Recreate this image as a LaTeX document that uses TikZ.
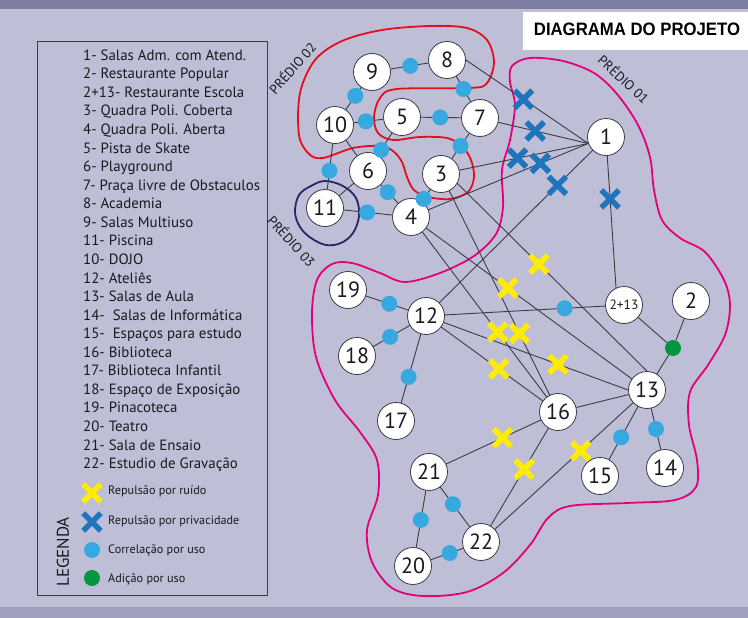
\documentclass[tikz,border=0pt]{standalone}
\usepackage{fontspec}
\usepackage{graphicx}
\setmainfont{PT Sans}
\newfontfamily\titlefont{Liberation Sans}
\usetikzlibrary{calc,shapes.misc}
\definecolor{bgc}{RGB}{190,191,214}
\definecolor{topband}{RGB}{125,127,162}
\definecolor{botband}{RGB}{160,161,190}
\definecolor{dotblue}{RGB}{55,168,224}
\definecolor{xblue}{RGB}{30,117,190}
\definecolor{xyellow}{RGB}{255,236,0}
\definecolor{dotgreen}{RGB}{0,150,64}
\definecolor{redc}{RGB}{228,15,30}
\definecolor{magc}{RGB}{228,0,125}
\definecolor{navyc}{RGB}{40,38,100}
\definecolor{linegray}{RGB}{60,60,70}
\definecolor{txt}{RGB}{25,25,30}
\pgfdeclarelayer{back}
\pgfdeclarelayer{edges}
\pgfsetlayers{back,edges,main}
\begin{document}
\begin{tikzpicture}[x=1pt,y=-1pt,
  vtx/.style={circle, draw=linegray, fill=white, line width=0.8pt, minimum size=37pt, inner sep=0pt, text=txt, font=\fontsize{22}{22}\selectfont},
  bdot/.style={circle, fill=dotblue, minimum size=16pt, inner sep=0pt},
  gdot/.style={circle, fill=dotgreen, minimum size=16pt, inner sep=0pt},
  yx/.style={cross out, draw=xyellow, line width=5.6pt, minimum size=12pt, inner sep=0pt},
  bx/.style={cross out, draw=xblue, line width=5.6pt, minimum size=12pt, inner sep=0pt},
  link/.style={draw=linegray, line width=0.9pt},
  zone/.style={line width=1.8pt},
  legtxt/.style={anchor=base west, inner sep=0pt, text=txt, font=\fontsize{14.9}{14.9}\selectfont},
  legsmall/.style={anchor=base west, inner sep=0pt, text=txt, font=\fontsize{12.2}{12.2}\selectfont},
  zonelabel/.style={text=txt, inner sep=0pt, font=\fontsize{13.5}{13.5}\selectfont}
]
\useasboundingbox (0,0) rectangle (748,618);

\begin{pgfonlayer}{back}
\fill[bgc] (0,0) rectangle (748,618);
\fill[topband] (0,0) rectangle (748,9);
\fill[botband] (0,607) rectangle (748,618);
\draw[draw=linegray, line width=1pt] (37,42) rectangle (267,595);
% PREDIO 02
\draw[zone, redc] plot[smooth cycle, tension=0.55] coordinates {
(323,158) (353,148) (380,146) (393,151) (402,162) (407,177) (414,190) (428,197)
(450,199) (468,192) (474,177) (471,160) (462,146) (447,138) (420,137) (393,140)
(378,133) (374,117) (380,98) (397,89) (470,88) (487,83) (494,62) (487,40)
(467,28) (430,26) (382,30) (342,41) (315,60) (300,93) (299,135) (309,154)};
% PREDIO 03
\draw[zone, navyc] plot[smooth cycle, tension=0.6] coordinates {
(299,195) (311,186) (325,181) (343,186) (356,198) (359,216) (353,233) (341,243)
(326,245) (311,238) (300,227) (295,212)};
% PREDIO 01
\draw[zone, magc] plot[smooth cycle, tension=0.55] coordinates {
(512,66) (530,58) (563,61) (594,73) (617,94) (638,125) (650,157) (654,190)
(662,220) (680,238) (705,252) (724,280) (730,305) (725,335) (708,365) (690,392)
(689,425) (697,460) (696,487) (675,500) (627,503) (570,506) (548,518) (530,545)
(503,573) (467,592) (423,596) (392,588) (372,562) (367,530) (378,495) (377,460)
(360,432) (335,400) (316,357) (312,313) (317,280) (332,264) (352,263) (380,273)
(405,282) (440,273) (474,256) (496,234) (503,207) (502,170) (510,140) (515,105)
(510,82)};
\end{pgfonlayer}

% title
\node[fill=white, minimum width=226pt, minimum height=38pt, anchor=north west, inner sep=0pt] (titlebox) at (523,12) {};
\node[inner sep=0pt, text=black] (title) at (637,29) {\titlefont\bfseries\fontsize{18}{18}\selectfont\scalebox{0.93}[1]{DIAGRAMA DO PROJETO}};

% legend
\foreach \t [count=\i from 0] in {1- Salas Adm. com Atend.,2- Restaurante Popular,2+13- Restaurante Escola,3- Quadra Poli. Coberta,4- Quadra Poli. Aberta,5- Pista de Skate,6- Playground,7- Praça livre de Obstaculos,8- Academia,9- Salas Multiuso,11- Piscina,10- DOJO,12- Ateliês,13- Salas de Aula,14-~ Salas de Informática,15-~ Espaços para estudo,16- Biblioteca,17- Biblioteca Infantil,18- Espaço de Exposição,19- Pinacoteca,20- Teatro,21- Sala de Ensaio,22- Estudio de Gravação}
  \node[legtxt] (leg\i) at (83,{60.3+18.56*\i}) {\t};
\node[yx] (lyx) at (92,493) {};
\node[bx] (lbx) at (92,522) {};
\node[bdot] (lbd) at (92,550) {};
\node[gdot] (lgd) at (92,578) {};
\node[legsmall] (lt1) at (108,494) {Repulsão por ruído};
\node[legsmall] (lt2) at (108,524) {Repulsão por privacidade};
\node[legsmall] (lt3) at (108,553) {Correlação por uso};
\node[legsmall] (lt4) at (108,582) {Adição por uso};
\node[rotate=90, inner sep=0pt, text=txt, font=\fontsize{17}{17}\selectfont] (legtitle) at (63,552) {LEGENDA};

% zone labels
\node[zonelabel, rotate=49] (p2) at (292,68) {PRÉDIO 02};
\node[zonelabel, rotate=-43] (p1) at (624,79) {PRÉDIO 01};
\node[zonelabel, rotate=-48] (p3) at (292,241) {PRÉDIO 03};

% vertices
\node[vtx] (n1) at (606,137) {1};
\node[vtx] (n2) at (691,301) {2};
\node[vtx, font=\fontsize{13.5}{13.5}\selectfont] (n213) at (624,305) {2+13};
\node[vtx] (n3) at (441,174) {3};
\node[vtx] (n4) at (411,217) {4};
\node[vtx] (n5) at (402,117) {5};
\node[vtx] (n6) at (368,171) {6};
\node[vtx] (n7) at (480,118) {7};
\node[vtx] (n8) at (447,60) {8};
\node[vtx] (n9) at (372,72) {9};
\node[vtx] (n10) at (335,125) {10};
\node[vtx] (n11) at (325,208) {11};
\node[vtx] (n12) at (426,316) {12};
\node[vtx] (n13) at (647,390) {13};
\node[vtx] (n14) at (665,468) {14};
\node[vtx] (n15) at (600,476) {15};
\node[vtx] (n16) at (558,412) {16};
\node[vtx] (n17) at (396,421) {17};
\node[vtx] (n18) at (357,356) {18};
\node[vtx] (n19) at (348,290) {19};
\node[vtx] (n20) at (413,566) {20};
\node[vtx] (n21) at (429,472) {21};
\node[vtx] (n22) at (481,542) {22};
\node[gdot] (g) at (673,348) {};

% edges
\begin{pgfonlayer}{edges}
\foreach \a/\b in {n9/n8,n9/n10,n10/n5,n5/n7,n8/n7,n7/n3,n5/n6,n10/n11,n6/n4,n11/n4,n3/n4,
  n12/n19,n12/n18,n12/n17,n12/n213,n13/n15,n13/n14,n21/n22,n21/n20,n20/n22,
  n10/n6,n6/n11,n13/n16,n12/n1,n4/n13,n4/n16,n3/n16,n12/n16,n16/n21,n16/n22,n13/n22,
  n2/g,g/n13,n213/g}
  \draw[link] (\a) -- (\b);
\draw[link] (n8.east) -- (n1.200);
\draw[link] (n7) -- (n1.200);
\draw[link] (n3) -- (n1.200);
\draw[link] (n4) -- (n1.200);
\draw[link] (n1) -- (n213.115);
\draw[link] (n3.-30) -- (n13.north);
\draw[link] (n12.-20) -- (n13.west);
\end{pgfonlayer}

% blue dots
\node[bdot] (d1) at ($(n9)!0.51!(n8)$) {};
\node[bdot] (d2) at ($(n9)!0.45!(n10)$) {};
\node[bdot] (d3) at ($(n10)!0.46!(n5)$) {};
\node[bdot] (d4) at ($(n5)!0.49!(n7)$) {};
\node[bdot] (d5) at ($(n8)!0.5!(n7)$) {};
\node[bdot] (d6) at ($(n7)!0.5!(n3)$) {};
\node[bdot] (d7) at ($(n5)!0.61!(n6)$) {};
\node[bdot] (d8) at ($(n10)!0.55!(n11)$) {};
\node[bdot] (d9) at ($(n6)!0.46!(n4)$) {};
\node[bdot] (d10) at ($(n11)!0.49!(n4)$) {};
\node[bdot] (d11) at ($(n3)!0.58!(n4)$) {};
\node[bdot] (d12) at ($(n12)!0.47!(n19)$) {};
\node[bdot] (d13) at ($(n12)!0.52!(n18)$) {};
\node[bdot] (d14) at ($(n12)!0.58!(n17)$) {};
\node[bdot] (d15) at ($(n12)!0.70!(n213)$) {};
\node[bdot] (d16) at ($(n13)!0.55!(n15)$) {};
\node[bdot] (d17) at ($(n13)!0.5!(n14)$) {};
\node[bdot] (d18) at ($(n21)!0.46!(n22)$) {};
\node[bdot] (d19) at ($(n21)!0.51!(n20)$) {};
\node[bdot] (d20) at ($(n20)!0.54!(n22)$) {};

% blue crosses
\node[bx] (b1) at ($(n8.east)!0.47!(n1.200)$) {};
\node[bx] (b2) at ($(n7)!0.51!(n1.200)$) {};
\node[bx] (b3) at ($(n3)!0.52!(n1.200)$) {};
\node[bx] (b4) at ($(n4)!0.73!(n1.200)$) {};
\node[bx] (b5) at ($(n12)!0.73!(n1)$) {};
\node[bx] (b6) at ($(n1)!0.41!(n213.115)$) {};

% yellow crosses
\node[yx] (y1) at ($(n3.-30)!0.43!(n13.north)$) {};
\node[yx] (y2) at ($(n4)!0.41!(n13)$) {};
\node[yx] (y3) at ($(n4)!0.59!(n16)$) {};
\node[yx] (y4) at ($(n3)!0.67!(n16)$) {};
\node[yx] (y5) at ($(n12.-20)!0.62!(n13.west)$) {};
\node[yx] (y6) at ($(n12)!0.55!(n16)$) {};
\node[yx] (y7) at ($(n16)!0.43!(n21)$) {};
\node[yx] (y8) at ($(n16)!0.44!(n22)$) {};
\node[yx] (y9) at ($(n13)!0.40!(n22)$) {};
\end{tikzpicture}
\end{document}
